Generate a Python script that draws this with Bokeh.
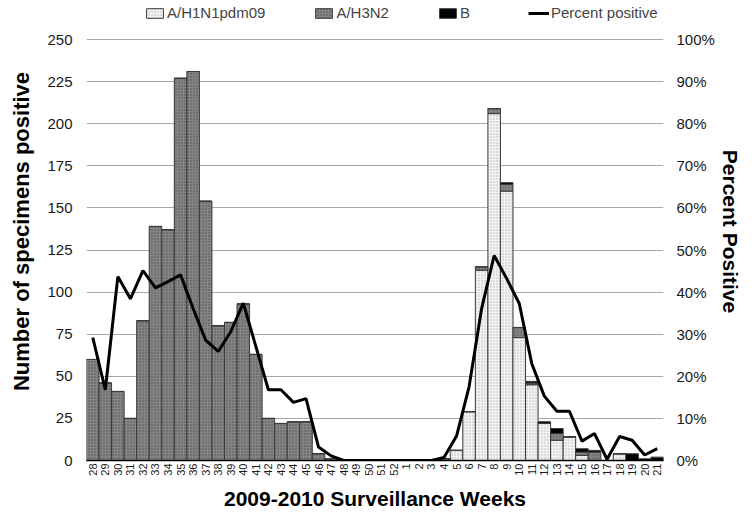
from bokeh.plotting import figure
from bokeh.models import (FactorRange, Range1d, LinearAxis, FixedTicker,
                          PrintfTickFormatter, Legend, LegendItem)
from bokeh.embed import file_html
from bokeh.resources import INLINE

weeks = [str(w) for w in range(28, 53)] + [str(w) for w in range(1, 22)]

h1n1 = [0] * 25 + [0, 0, 0, 1, 6, 29, 113, 206, 160, 73, 45, 22, 12, 14, 3, 0, 0, 4, 0, 0, 0]
h3n2 = [60, 46, 41, 25, 83, 139, 137, 227, 231, 154, 80, 82, 93, 63, 25, 22, 23, 23, 4, 1,
        0, 0, 0, 0, 0] + [0, 0, 0, 0, 0, 0, 2, 3, 4, 6, 1, 0, 4, 0, 2, 5, 0, 0, 0, 0, 0]
b_vals = [0] * 25 + [0, 0, 0, 0, 0, 0, 0, 0, 1, 0, 1, 1, 3, 0, 2, 1, 0, 0, 4, 1, 2]
pct = [29.2, 16.8, 43.7, 38.4, 45.1, 41.0, 42.5, 44.1, 36.1, 28.6, 25.9, 30.6, 37.4, 27.1,
       16.8, 16.8, 13.8, 14.7, 3.2, 1.1, 0, 0, 0, 0, 0,
       0, 0, 0, 0.7, 5.8, 17.5, 36.1, 48.7, 43.2, 37.3, 23.0, 15.3, 11.7, 11.7, 4.6, 6.4,
       0.3, 5.7, 4.8, 1.3, 2.8]

left_ticks = list(range(0, 251, 25))
right_ticks = list(range(0, 101, 10))

FONT = "Liberation Sans"

# the frame is extended upward (without grid/ticks) to leave room for the legend
Y_TOP = 272.0
P_TOP = Y_TOP / 2.5

p = figure(x_range=FactorRange(*weeks, range_padding=0), y_range=Range1d(0, Y_TOP),
           width=744, height=512, output_backend="svg", toolbar_location=None,
           min_border_left=86, min_border_right=74, min_border_top=2, min_border_bottom=49)
p.outline_line_color = None
p.extra_y_ranges = {"pct": Range1d(0, P_TOP)}

src = dict(weeks=weeks, h1n1=h1n1, h3n2=h3n2, b=b_vals)
rs = p.vbar_stack(["h1n1", "h3n2", "b"], x="weeks", width=1.0, source=src,
                  fill_color=["#f3f3f3", "#858585", "#000000"],
                  line_color="#3a3a3a", line_width=1,
                  hatch_pattern=["dot", "dot", " "],
                  hatch_color=["#b5b5b5", "#4f4f4f", "#000000"],
                  hatch_scale=3, hatch_weight=1)
ln = p.line(x=weeks, y=pct, y_range_name="pct", line_color="black", line_width=3)

p.xgrid.grid_line_color = None
p.ygrid.grid_line_color = "#a8a8a8"
p.ygrid.grid_line_width = 1

ya = p.yaxis[0]
ya.ticker = FixedTicker(ticks=left_ticks)
ya.axis_line_color = None
ya.major_tick_line_color = None
ya.minor_tick_line_color = None
ya.major_tick_out = 0
ya.major_tick_in = 0
ya.major_label_standoff = 14
ya.major_label_text_font = FONT
ya.major_label_text_font_size = "15px"
ya.major_label_text_color = "#1a1a1a"
ya.axis_label = "Number of specimens positive"
ya.axis_label_text_font = FONT
ya.axis_label_text_font_style = "bold"
ya.axis_label_text_font_size = "22px"
ya.axis_label_text_color = "#000000"
ya.axis_label_standoff = 10

ra = LinearAxis(y_range_name="pct", ticker=FixedTicker(ticks=right_ticks),
                formatter=PrintfTickFormatter(format="%d%%"))
ra.axis_line_color = None
ra.major_tick_line_color = None
ra.minor_tick_line_color = None
ra.major_tick_out = 0
ra.major_tick_in = 0
ra.major_label_standoff = 13
ra.major_label_text_font = FONT
ra.major_label_text_font_size = "15px"
ra.major_label_text_color = "#1a1a1a"
ra.axis_label = "Percent Positive"
ra.axis_label_text_font = FONT
ra.axis_label_text_font_style = "bold"
ra.axis_label_text_font_size = "21px"
ra.axis_label_text_color = "#000000"
ra.axis_label_standoff = 1
p.add_layout(ra, "right")

xa = p.xaxis[0]
xa.axis_line_color = "#000000"
xa.axis_line_width = 1.5
xa.major_tick_line_color = None
xa.minor_tick_line_color = None
xa.major_tick_out = 0
xa.major_tick_in = 0
xa.major_label_orientation = 1.5708
xa.major_label_standoff = 3
xa.major_label_text_font = FONT
xa.major_label_text_font_size = "11px"
xa.major_label_text_color = "#1a1a1a"
xa.axis_label = "2009-2010 Surveillance Weeks"
xa.axis_label_text_font = FONT
xa.axis_label_text_font_style = "bold"
xa.axis_label_text_font_size = "21px"
xa.axis_label_text_color = "#000000"
xa.axis_label_standoff = 8

legend = Legend(items=[LegendItem(label="A/H1N1pdm09", renderers=[rs[0]]),
                       LegendItem(label="A/H3N2", renderers=[rs[1]]),
                       LegendItem(label="B", renderers=[rs[2]]),
                       LegendItem(label="Percent positive", renderers=[ln])],
                orientation="horizontal", location=(58, 439))
legend.border_line_color = None
legend.background_fill_alpha = 0
legend.padding = 0
legend.margin = 0
legend.spacing = 48
legend.glyph_width = 21
legend.glyph_height = 12
legend.label_standoff = 2
legend.label_text_font = FONT
legend.label_text_font_size = "15px"
legend.label_height = 16
p.add_layout(legend, "center")

open("out.html", "w").write(file_html(p, INLINE))
